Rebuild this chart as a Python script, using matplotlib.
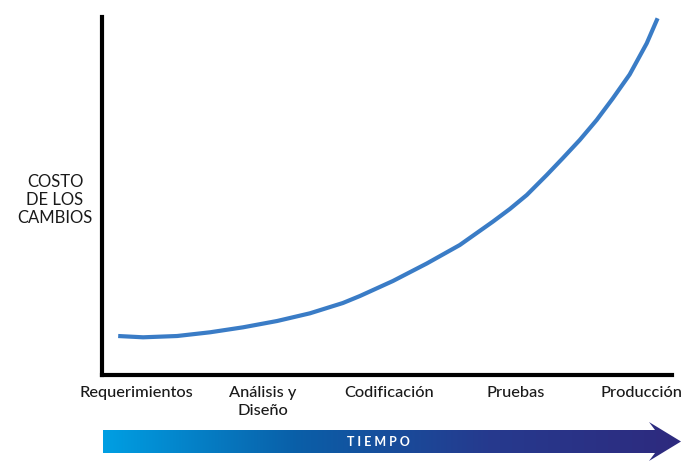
import numpy as np
import matplotlib
matplotlib.use("Agg")
import matplotlib.pyplot as plt
from matplotlib.patches import Polygon

plt.rcParams['font.family'] = ['Lato', 'DejaVu Sans']

# Data (x in stage units, y in % of axis height)
etapas = ["Requerimientos", "Análisis y\nDiseño", "Codificación", "Pruebas", "Producción"]
tiempo = [-0.142, 0.055, 0.324, 0.585, 0.846, 1.115, 1.375, 1.636, 1.771, 2.032,
          2.300, 2.561, 2.822, 2.957, 3.091, 3.249, 3.375, 3.510, 3.644, 3.771,
          3.905, 4.040, 4.126]
costo = [10.89, 10.53, 10.89, 11.93, 13.32, 15.08, 17.23, 20.11, 22.07, 26.26,
         31.15, 36.31, 42.82, 46.37, 50.28, 55.87, 60.53, 65.64, 71.23, 77.23,
         83.94, 92.65, 99.64]

W, H = 700, 474
fig = plt.figure(figsize=(W / 100, H / 100), dpi=100)

# main axes (pixel box from the reference)
ax = fig.add_axes([102 / W, (H - 375) / H, (672 - 102) / W, (375 - 17) / H])
ax.plot(tiempo, costo, color="#3a7cc6", linewidth=3, solid_capstyle="butt",
        solid_joinstyle="round")
ax.set_xlim(-0.27, 4.24)
ax.set_ylim(0, 100)
for s in ["top", "right"]:
    ax.spines[s].set_visible(False)
for s in ["left", "bottom"]:
    ax.spines[s].set_linewidth(3)
    ax.spines[s].set_color("black")
ax.set_xticks(range(len(etapas)))
ax.set_xticklabels(etapas, fontsize=11.8, color="#1a1a1a", linespacing=1.35,
                   fontweight="medium")
ax.set_yticks([])
ax.tick_params(axis="x", length=0, pad=8)

fig.text(55 / W, 1 - 200 / H, "COSTO\nDE LOS\nCAMBIOS", ha="center", va="center",
         fontsize=12, color="#1a1a1a", linespacing=1.15, multialignment="center")

# gradient arrow "TIEMPO"
ov = fig.add_axes([0, 0, 1, 1])
ov.set_xlim(0, W)
ov.set_ylim(H, 0)
ov.axis("off")
ov.patch.set_alpha(0)

x0, x1, xt = 103, 655, 681
yb0, yb1 = 430, 453
yh0, yh1 = 422, 461
ym = (yb0 + yb1) / 2
arrow = Polygon([(x0, yb0), (x1, yb0), (x1 - 6, yh0), (xt, ym),
                 (x1 - 6, yh1), (x1, yb1), (x0, yb1)], closed=True,
                facecolor="none", edgecolor="none")
ov.add_patch(arrow)
grad = np.linspace(0, 1, 256).reshape(1, -1)
cmap = matplotlib.colors.LinearSegmentedColormap.from_list(
    "tiempo", ["#009fe3", "#0a5fa8", "#263a8e", "#2e2a7e"])
im = ov.imshow(grad, cmap=cmap, aspect="auto", extent=(x0, xt, yh1, yh0))
im.set_clip_path(arrow)
ov.text(378, ym + 0.5, "T I E M P O", color="white", fontsize=9, fontweight="bold",
        ha="center", va="center")

fig.savefig("out.png", dpi=100)
